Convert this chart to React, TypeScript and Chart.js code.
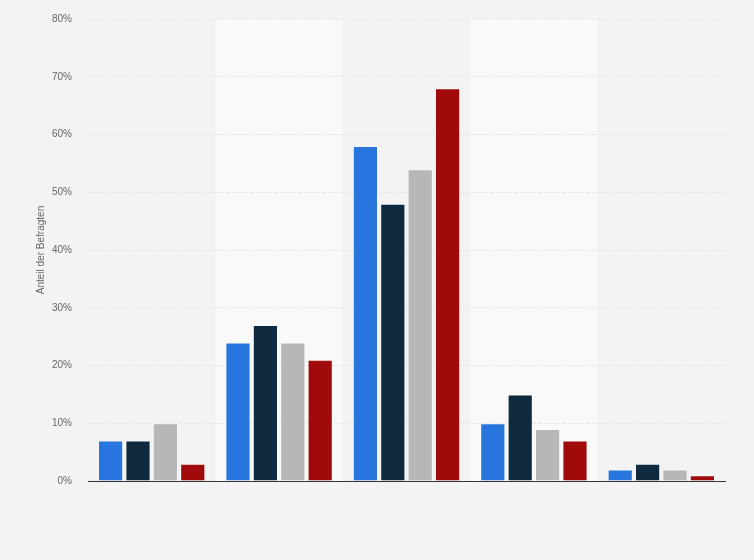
import { useEffect, useRef } from "react";
import Chart from "chart.js/auto";

const categories = ["1", "2", "3", "4", "5"];
const seriesA = [7, 24, 58, 10, 2];
const seriesB = [7, 27, 48, 15, 3];
const seriesC = [10, 24, 54, 9, 2];
const seriesD = [3, 21, 68, 7, 1];
const seriesColors = ["#2876dd", "#0f2a3f", "#b7b7b7", "#a10a0a"];
const yMax = 80;
const yStep = 10;

const backgroundPlugin = {
  id: "bands",
  beforeDraw(chart: Chart) {
    const { ctx, chartArea, width, height } = chart;
    ctx.save();
    ctx.fillStyle = "#f3f3f3";
    ctx.fillRect(0, 0, width, height);
    const w = (chartArea.right - chartArea.left) / categories.length;
    ctx.fillStyle = "#f9f9f9";
    categories.forEach((_, i) => {
      if (i % 2 === 1) {
        ctx.fillRect(chartArea.left + i * w, chartArea.top, w, chartArea.bottom - chartArea.top);
      }
    });
    ctx.restore();
  },
};

export default function App() {
  const chartRef = useRef<HTMLCanvasElement>(null);
  const chartInstance = useRef<Chart | null>(null);

  useEffect(() => {
    if (!chartRef.current) return;
    document.body.style.margin = "0";

    if (chartInstance.current) chartInstance.current.destroy();

    const datasets = [seriesA, seriesB, seriesC, seriesD].map((data, i) => ({
      label: "Serie " + (i + 1),
      data,
      backgroundColor: seriesColors[i],
      borderColor: "rgba(255,255,255,0.35)",
      borderWidth: 1,
      barPercentage: 0.92,
      categoryPercentage: 0.86,
    }));

    chartInstance.current = new Chart(chartRef.current, {
      type: "bar",
      data: { labels: categories, datasets },
      options: {
        animation: false,
        responsive: false,
        layout: { padding: { top: 19, right: 29, bottom: 71, left: 29 } },
        plugins: {
          legend: { display: false },
          tooltip: { enabled: false },
        },
        scales: {
          x: {
            ticks: { display: false },
            grid: { display: false },
            border: { display: true, color: "#333333", width: 1 },
          },
          y: {
            min: 0,
            max: yMax,
            afterFit: (scale) => {
              scale.width = 59;
              scale.paddingTop = 0;
            },
            ticks: {
              stepSize: yStep,
              color: "#666666",
              padding: 16,
              font: { family: "Liberation Sans", size: 10 },
              callback: (v) => v + "%",
            },
            grid: { color: "#d4d4d4", drawTicks: false },
            border: { display: false, dash: [1, 2] },
            title: {
              display: true,
              text: "Anteil der Befragten",
              color: "#666666",
              font: { family: "Liberation Sans", size: 10 },
              padding: 6,
            },
          },
        },
      },
      plugins: [backgroundPlugin],
    });

    return () => {
      if (chartInstance.current) {
        chartInstance.current.destroy();
        chartInstance.current = null;
      }
    };
  }, []);

  return <canvas ref={chartRef} width={754} height={560} style={{ display: "block" }} />;
}
